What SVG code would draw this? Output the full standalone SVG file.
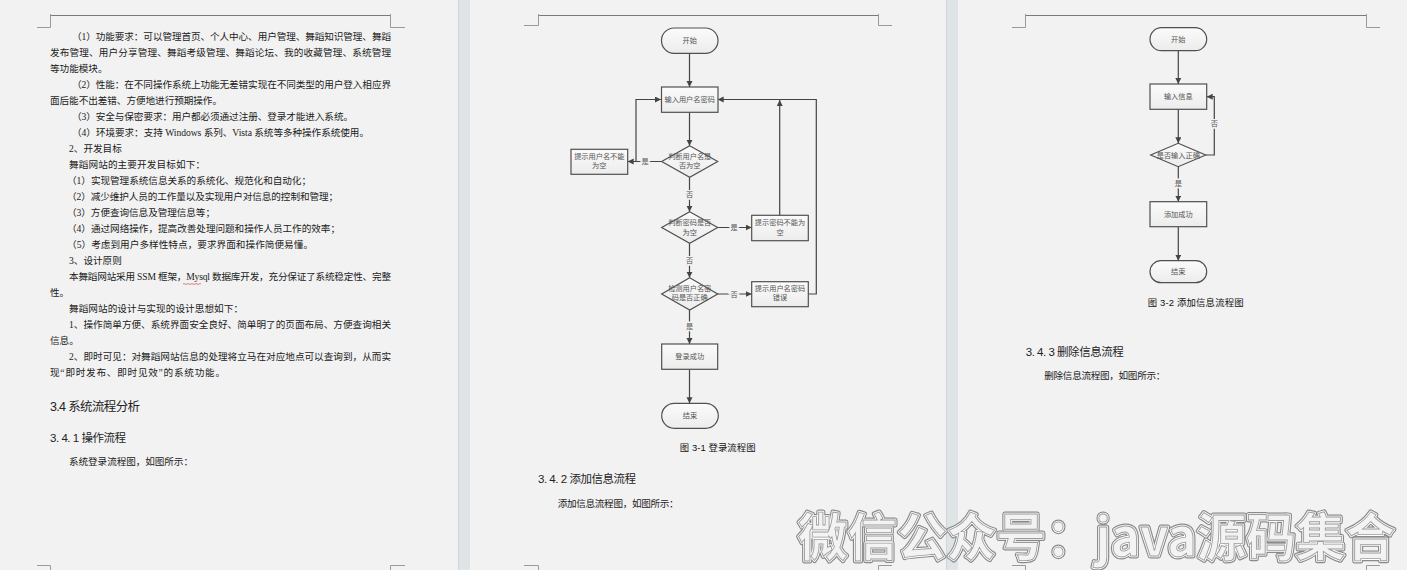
<svg xmlns="http://www.w3.org/2000/svg" width="1407" height="570" viewBox="0 0 1407 570">
  <defs>
    <style>
      .body { font-family: "Liberation Serif", "Noto Sans CJK SC", serif; font-size: 9.6px; fill: #1a1a1a; }
      .head { font-family: "Liberation Sans", "Noto Sans CJK SC", sans-serif; fill: #222; }
      .cap { font-family: "Liberation Sans", "Noto Sans CJK SC", sans-serif; font-size: 9.4px; fill: #111; text-anchor: middle; }
      .mark { stroke: #9a9a9a; stroke-width: 1; fill: none; }
      .hdr { stroke: #7a7a7a; stroke-width: 1; fill: none; }
      .shape { fill: url(#nodeFill); stroke: #505050; stroke-width: 1.2; }
      .lbl { font-family: "Noto Sans CJK SC", sans-serif; font-size: 7.2px; fill: #555; text-anchor: middle; }
      .edge { stroke: #444; stroke-width: 1.2; fill: none; marker-end: url(#arrow); }
      .line { stroke: #444; stroke-width: 1.2; fill: none; }
      .elbl { font-family: "Noto Sans CJK SC", sans-serif; font-size: 7.2px; fill: #555; text-anchor: middle;
              stroke: #f2f2f2; stroke-width: 3; paint-order: stroke; }
      .wm { font-family: "Noto Sans CJK SC", sans-serif; font-weight: bold; font-size: 51px; }
    </style>
    <linearGradient id="nodeFill" x1="0" y1="0" x2="0" y2="1">
      <stop offset="0" stop-color="#fbfbfb"/>
      <stop offset="1" stop-color="#ececec"/>
    </linearGradient>
    <marker id="arrow" markerUnits="userSpaceOnUse" markerWidth="7" markerHeight="7" refX="6" refY="3" orient="auto">
      <path d="M0,0 L6,3 L0,6 z" fill="#444"/>
    </marker>
    <text id="wmText" class="wm" x="798" y="556" textLength="597" lengthAdjust="spacingAndGlyphs">微信公众号：java源码集合</text>
  </defs>

  <!-- workspace and page gutters -->
  <rect x="0" y="0" width="1407" height="570" fill="#f2f2f2"/>
  <rect x="458" y="0" width="12" height="570" fill="#dfe4e7"/>
  <line x1="458.5" y1="0" x2="458.5" y2="570" stroke="#cfd6da"/>
  <rect x="946" y="0" width="12" height="570" fill="#dfe4e7"/>
  <line x1="946.5" y1="0" x2="946.5" y2="570" stroke="#cfd6da"/>

  <!-- page 1 -->
  <g id="page1">
    <path class="hdr" d="M50,15.5 H391"/>
    <path class="mark" d="M50.5,14 V27.5 H37"/>
    <path class="mark" d="M390.5,14 V27.5 H405"/>
    <path class="mark" d="M37,565.5 H50.5 V570"/>
    <path class="mark" d="M405,565.5 H390.5 V570"/>

    <text class="body" x="72" y="39.6" textLength="319" lengthAdjust="spacing">（1）功能要求：可以管理首页、个人中心、用户管理、舞蹈知识管理、舞蹈</text>
    <text class="body" x="50" y="55.6" textLength="341" lengthAdjust="spacing">发布管理、用户分享管理、舞蹈考级管理、舞蹈论坛、我的收藏管理、系统管理</text>
    <text class="body" x="50" y="71.6">等功能模块。</text>
    <text class="body" x="72" y="87.6" textLength="319" lengthAdjust="spacing">（2）性能：在不同操作系统上功能无差错实现在不同类型的用户登入相应界</text>
    <text class="body" x="50" y="103.6" textLength="172" lengthAdjust="spacing">面后能不出差错、方便地进行预期操作。</text>
    <text class="body" x="72" y="119.6" textLength="281" lengthAdjust="spacing">（3）安全与保密要求：用户都必须通过注册、登录才能进入系统。</text>
    <text class="body" x="72" y="135.6" textLength="297" lengthAdjust="spacing">（4）环境要求：支持 Windows 系列、Vista 系统等多种操作系统使用。</text>
    <text class="body" x="69" y="151.6">2、开发目标</text>
    <text class="body" x="69" y="167.6" textLength="136" lengthAdjust="spacing">舞蹈网站的主要开发目标如下：</text>
    <text class="body" x="67" y="183.6" textLength="244" lengthAdjust="spacing">（1）实现管理系统信息关系的系统化、规范化和自动化；</text>
    <text class="body" x="67" y="199.6" textLength="271" lengthAdjust="spacing">（2）减少维护人员的工作量以及实现用户对信息的控制和管理；</text>
    <text class="body" x="67" y="215.6" textLength="148" lengthAdjust="spacing">（3）方便查询信息及管理信息等；</text>
    <text class="body" x="67" y="231.6" textLength="273" lengthAdjust="spacing">（4）通过网络操作，提高改善处理问题和操作人员工作的效率；</text>
    <text class="body" x="67" y="247.6" textLength="246" lengthAdjust="spacing">（5）考虑到用户多样性特点，要求界面和操作简便易懂。</text>
    <text class="body" x="69" y="263.6">3、设计原则</text>
    <text class="body" x="69" y="279.6" textLength="322" lengthAdjust="spacing">本舞蹈网站采用 SSM 框架，Mysql 数据库开发，充分保证了系统稳定性、完整</text>
    <path d="M183,284 q1,-1 2,0 t2,0 t2,0 t2,0 t2,0 t2,0 t2,0 t2,0 t2,0" stroke="#d03030" stroke-width="0.6" fill="none"/>
    <text class="body" x="50" y="295.6">性。</text>
    <text class="body" x="69" y="311.6" textLength="174" lengthAdjust="spacing">舞蹈网站的设计与实现的设计思想如下：</text>
    <text class="body" x="69" y="327.6" textLength="322" lengthAdjust="spacing">1、操作简单方便、系统界面安全良好、简单明了的页面布局、方便查询相关</text>
    <text class="body" x="50" y="343.6">信息。</text>
    <text class="body" x="69" y="359.6" textLength="322" lengthAdjust="spacing">2、即时可见：对舞蹈网站信息的处理将立马在对应地点可以查询到，从而实</text>
    <text class="body" x="50" y="375.6" textLength="175" lengthAdjust="spacing">现“即时发布、即时见效”的系统功能。</text>

    <text class="head" x="50" y="411" font-size="12.5" textLength="90" lengthAdjust="spacing">3.4 系统流程分析</text>
    <text class="head" x="50" y="441.5" font-size="11.5" textLength="76" lengthAdjust="spacing">3. 4. 1 操作流程</text>
    <text class="body" x="69" y="464.6" textLength="124" lengthAdjust="spacing">系统登录流程图，如图所示：</text>
  </g>

  <!-- page 2 -->
  <g id="page2">
    <path class="hdr" d="M538,15.5 H878"/>
    <path class="mark" d="M538.5,14 V25.5 H524"/>
    <path class="mark" d="M878.5,14 V25.5 H892"/>
    <path class="mark" d="M524,565.5 H538.5 V570"/>
    <path class="mark" d="M892,565.5 H878.5 V570"/>

    <text class="cap" x="717.7" y="451.2" textLength="76" lengthAdjust="spacing">图 3-1 登录流程图</text>
    <text class="head" x="538" y="483" font-size="11.5" textLength="98" lengthAdjust="spacing">3. 4. 2 添加信息流程</text>
    <text class="body" x="557.7" y="506.8" textLength="121" lengthAdjust="spacing">添加信息流程图，如图所示：</text>
  </g>

  <!-- login flow: connectors -->
  <g id="login-edges">
    <path class="edge" d="M689.5,53.3 V87"/>
    <path class="edge" d="M689.5,112.3 V145.7"/>
    <path class="edge" d="M661.7,161.5 H627.7"/>
    <path class="edge" d="M636,161.5 V99.5 H661"/>
    <path class="edge" d="M689.5,177.3 V211.7"/>
    <path class="edge" d="M717.7,227.5 H751.7"/>
    <path class="edge" d="M779.7,215.3 V100"/>
    <path class="edge" d="M689.5,243.3 V277.7"/>
    <path class="edge" d="M717.7,294 H751.7"/>
    <path class="edge" d="M808.3,294 H816.3 V99.5 H717.7"/>
    <path class="edge" d="M689.5,310 V344"/>
    <path class="edge" d="M689.5,369.3 V403.3"/>
    <text class="elbl" x="645" y="164">是</text>
    <text class="elbl" x="689.5" y="196.5">否</text>
    <text class="elbl" x="734" y="230">是</text>
    <text class="elbl" x="689.5" y="262.5">否</text>
    <text class="elbl" x="734" y="296.5">否</text>
    <text class="elbl" x="689.5" y="329.2">是</text>
  </g>

  <!-- login flow: nodes -->
  <g id="login-start">
    <rect class="shape" x="661.5" y="28" width="56.5" height="25.3" rx="12.6"/>
    <text class="lbl" x="689.7" y="43.2">开始</text>
  </g>
  <g id="login-input">
    <rect class="shape" x="661.5" y="87" width="56.5" height="25.3"/>
    <text class="lbl" x="689.7" y="102.2">输入用户名密码</text>
  </g>
  <g id="login-check-name">
    <polygon class="shape" points="689.7,145.7 717.7,161.5 689.7,177.3 661.7,161.5"/>
    <text class="lbl" x="689.7" y="158.5">判断用户名是</text>
    <text class="lbl" x="689.7" y="167.8">否为空</text>
  </g>
  <g id="login-tip-name">
    <rect class="shape" x="571" y="149.3" width="56.7" height="25"/>
    <text class="lbl" x="599.3" y="158.6">提示用户名不能</text>
    <text class="lbl" x="599.3" y="168">为空</text>
  </g>
  <g id="login-check-pwd">
    <polygon class="shape" points="689.7,211.7 717.7,227.5 689.7,243.3 661.7,227.5"/>
    <text class="lbl" x="689.7" y="225.3">判断密码是否</text>
    <text class="lbl" x="689.7" y="234.8">为空</text>
  </g>
  <g id="login-tip-pwd">
    <rect class="shape" x="751.7" y="215.3" width="56.6" height="25.4"/>
    <text class="lbl" x="780" y="225.3">提示密码不能为</text>
    <text class="lbl" x="780" y="234.8">空</text>
  </g>
  <g id="login-verify">
    <polygon class="shape" points="689.7,277.7 717.7,294 689.7,310 661.7,294"/>
    <text class="lbl" x="689.7" y="290.9">检测用户名密</text>
    <text class="lbl" x="689.7" y="300.3">码是否正确</text>
  </g>
  <g id="login-tip-wrong">
    <rect class="shape" x="751.7" y="281.7" width="56.6" height="25"/>
    <text class="lbl" x="780" y="290.9">提示用户名密码</text>
    <text class="lbl" x="780" y="300.3">错误</text>
  </g>
  <g id="login-success">
    <rect class="shape" x="661.7" y="344" width="56" height="25.3"/>
    <text class="lbl" x="689.7" y="359">登录成功</text>
  </g>
  <g id="login-end">
    <rect class="shape" x="661.7" y="403.3" width="56.6" height="25" rx="12.5"/>
    <text class="lbl" x="690" y="418.4">结束</text>
  </g>

  <!-- page 3 -->
  <g id="page3">
    <path class="hdr" d="M1026,15.5 H1366"/>
    <path class="mark" d="M1025.5,14 V27.5 H1012"/>
    <path class="mark" d="M1366.5,14 V27.5 H1380"/>
    <path class="mark" d="M1012,565.5 H1025.5 V570"/>
    <path class="mark" d="M1380,565.5 H1366.5 V570"/>

    <text class="cap" x="1195.7" y="305.8" textLength="96" lengthAdjust="spacing">图 3-2 添加信息流程图</text>
    <text class="head" x="1025.7" y="355.8" font-size="11.5" textLength="98" lengthAdjust="spacing">3. 4. 3 删除信息流程</text>
    <text class="body" x="1044.3" y="378.6" textLength="121" lengthAdjust="spacing">删除信息流程图，如图所示：</text>
  </g>

  <!-- add-info flow: connectors -->
  <g id="add-edges">
    <path class="edge" d="M1178.3,50.7 V84"/>
    <path class="edge" d="M1178.3,109.3 V143.3"/>
    <path class="edge" d="M1205.7,155 H1214.3 V96.7 H1206.7"/>
    <path class="edge" d="M1178.3,166.7 V201.7"/>
    <path class="edge" d="M1178.3,226.7 V260.7"/>
    <text class="elbl" x="1214.3" y="126">否</text>
    <text class="elbl" x="1178.3" y="186">是</text>
  </g>

  <!-- add-info flow: nodes -->
  <g id="add-start">
    <rect class="shape" x="1150" y="27.7" width="56.7" height="23" rx="11.5"/>
    <text class="lbl" x="1178.3" y="41.7">开始</text>
  </g>
  <g id="add-input">
    <rect class="shape" x="1150" y="84" width="56.7" height="25.3"/>
    <text class="lbl" x="1178.3" y="99.2">输入信息</text>
  </g>
  <g id="add-check">
    <polygon class="shape" points="1178.2,143.3 1205.7,155 1178.2,166.7 1150.7,155"/>
    <text class="lbl" x="1178.3" y="157.6">是否输入正确</text>
  </g>
  <g id="add-success">
    <rect class="shape" x="1150" y="201.7" width="56.7" height="25"/>
    <text class="lbl" x="1178.3" y="216.7">添加成功</text>
  </g>
  <g id="add-end">
    <rect class="shape" x="1150" y="260.7" width="56.7" height="22" rx="11"/>
    <text class="lbl" x="1178.3" y="274.2">结束</text>
  </g>

  <!-- outlined overlay caption -->
  <g id="watermark">
    <use href="#wmText" fill="none" stroke="#8a8a8a" stroke-width="5" stroke-linejoin="round"/>
    <use href="#wmText" fill="none" stroke="#ffffff" stroke-width="2.6" stroke-linejoin="round"/>
    <use href="#wmText" fill="#f3f3f3" stroke="#9c9c9c" stroke-width="0.9"/>
  </g>
</svg>
